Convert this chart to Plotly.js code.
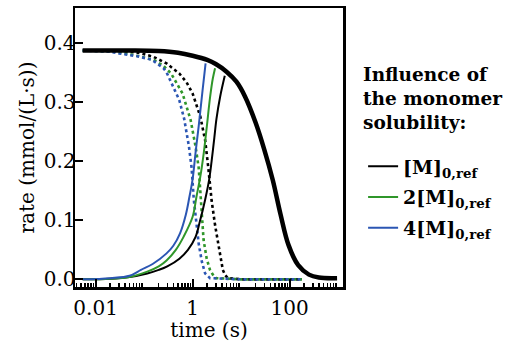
<!DOCTYPE html>
<html>
<head>
<meta charset="utf-8">
<script src="https://cdn.plot.ly/plotly-3.0.1.min.js"></script>
<style>html,body{margin:0;padding:0;background:#fff;}#chart{width:505px;height:342px;}</style>
</head>
<body>
<div id="chart"></div>
<script>
// Thick black: overall rate
var totalT = [0.0054, 0.05, 0.2, 0.5, 1, 2, 3, 5, 8, 12, 20, 30, 45, 65, 95, 150, 250, 400, 950];
var totalR = [0.388, 0.388, 0.387, 0.384, 0.379, 0.372, 0.365, 0.352, 0.335, 0.31, 0.265, 0.22, 0.168, 0.11, 0.058, 0.024, 0.008, 0.003, 0.002];

// Thin solid (rising) curves
var refRiseT = [0.0054, 0.02, 0.05, 0.116, 0.2, 0.3, 0.534, 0.8, 1.15, 1.4, 1.81, 2.2, 2.46, 2.8, 3.1, 3.7, 4.6];
var refRiseR = [0.0, 0.001, 0.004, 0.01, 0.016, 0.022, 0.035, 0.05, 0.072, 0.097, 0.135, 0.17, 0.2, 0.24, 0.272, 0.31, 0.345];
var x2RiseT = [0.0054, 0.02, 0.05, 0.116, 0.2, 0.29, 0.45, 0.65, 1.0, 1.2, 1.44, 1.7, 1.96, 2.3, 2.6, 2.9];
var x2RiseR = [0.0, 0.001, 0.004, 0.013, 0.022, 0.032, 0.05, 0.072, 0.106, 0.14, 0.174, 0.215, 0.259, 0.31, 0.34, 0.358];
var x4RiseT = [0.0054, 0.02, 0.05, 0.086, 0.15, 0.29, 0.4, 0.55, 0.726, 0.86, 1.0, 1.15, 1.33, 1.6, 1.85];
var x4RiseR = [0.0, 0.002, 0.006, 0.016, 0.026, 0.044, 0.057, 0.078, 0.11, 0.14, 0.17, 0.215, 0.259, 0.32, 0.366];

// Dotted (decaying) curves
var refDecT = [0.0054, 0.03, 0.08, 0.158, 0.29, 0.53, 0.75, 1.0, 1.44, 1.81, 2.1, 2.46, 2.9, 3.33, 3.8, 4.19, 4.7, 5.3, 10, 50, 180];
var refDecR = [0.388, 0.387, 0.384, 0.377, 0.366, 0.349, 0.334, 0.315, 0.276, 0.236, 0.19, 0.134, 0.092, 0.061, 0.034, 0.016, 0.007, 0.002, 0.0, 0.0, 0.0];
var x2DecT = [0.0054, 0.025, 0.063, 0.158, 0.25, 0.36, 0.62, 0.91, 1.15, 1.33, 1.44, 1.68, 1.95, 2.28, 2.7, 3.1, 10, 50, 180];
var x2DecR = [0.388, 0.386, 0.38, 0.372, 0.362, 0.349, 0.315, 0.27, 0.225, 0.19, 0.15, 0.067, 0.035, 0.016, 0.006, 0.002, 0.0, 0.0, 0.0];
var x4DecT = [0.0054, 0.02, 0.03, 0.075, 0.146, 0.25, 0.29, 0.46, 0.53, 0.67, 0.84, 0.95, 1.06, 1.2, 1.33, 1.55, 1.81, 2.28, 10, 50, 180];
var x4DecR = [0.388, 0.386, 0.383, 0.378, 0.372, 0.358, 0.351, 0.317, 0.304, 0.272, 0.225, 0.19, 0.134, 0.095, 0.061, 0.03, 0.01, 0.002, 0.0, 0.0, 0.0];

var legendNames = ['[M]<sub>0,ref</sub>', '2[M]<sub>0,ref</sub>', '4[M]<sub>0,ref</sub>'];
var legendTitleLines = ['Influence of', 'the monomer', 'solubility:'];
var xTickVals = [0.01, 1, 100];
var xTickText = ['0.01', '1', '100'];
var yTickVals = [0, 0.1, 0.2, 0.3, 0.4];
var yTickText = ['0.0', '0.1', '0.2', '0.3', '0.4'];

var colBlack = '#000000', colGreen = '#2f962a', colBlue = '#2b56b3';

var traces = [
  {x: refDecT, y: refDecR, mode: 'lines', line: {color: colBlack, width: 2.6, dash: 'dot'}, showlegend: false},
  {x: x2DecT, y: x2DecR, mode: 'lines', line: {color: colGreen, width: 2.6, dash: 'dot'}, showlegend: false},
  {x: x4DecT, y: x4DecR, mode: 'lines', line: {color: colBlue, width: 2.6, dash: 'dot'}, showlegend: false},
  {x: refRiseT, y: refRiseR, mode: 'lines', line: {color: colBlack, width: 2, shape: 'spline', smoothing: 1}, name: legendNames[0], legendgroup: 'a'},
  {x: x2RiseT, y: x2RiseR, mode: 'lines', line: {color: colGreen, width: 2, shape: 'spline', smoothing: 1}, name: legendNames[1], legendgroup: 'b'},
  {x: x4RiseT, y: x4RiseR, mode: 'lines', line: {color: colBlue, width: 2, shape: 'spline', smoothing: 1}, name: legendNames[2], legendgroup: 'c'},
  {x: totalT, y: totalR, mode: 'lines', line: {color: colBlack, width: 4.5, shape: 'spline', smoothing: 1}, showlegend: false}
];

var minorVals = [];
var decadeVals = [];
for (var e = -3; e <= 3; e++) {
  decadeVals.push(Math.pow(10, e));
  for (var m = 2; m <= 9; m++) minorVals.push(m * Math.pow(10, e));
}

var fontFam = 'DejaVu Serif, serif';
var xRange = [-2.425, 3.10];
var titleY = [0.760, 0.677, 0.591];
var annotations = legendTitleLines.map(function (s, i) {
  return {text: '<b>' + s + '</b>', xref: 'paper', yref: 'paper', x: 1.066, y: titleY[i],
          xanchor: 'left', yanchor: 'middle', showarrow: false,
          font: {family: fontFam, size: 18.5, color: '#000'}};
});

var layout = {
  width: 505, height: 342,
  margin: {l: 75, r: 152, t: 8, b: 55},
  paper_bgcolor: '#fff', plot_bgcolor: '#fff',
  font: {family: fontFam, size: 20, color: '#000'},
  xaxis: {
    type: 'log', range: xRange,
    tickvals: xTickVals, ticktext: xTickText,
    ticks: 'inside', ticklen: 8, tickwidth: 2, tickcolor: '#000',
    ticklabelstandoff: 1,
    minor: {tickvals: minorVals, ticks: 'inside', ticklen: 4, tickwidth: 1.5, tickcolor: '#000', showgrid: false},
    showline: true, linewidth: 2.5, linecolor: '#000', mirror: true,
    showgrid: false, zeroline: false,
    tickfont: {family: fontFam, size: 20},
    title: {text: 'time (s)', font: {family: fontFam, size: 20}, standoff: 3}
  },
  xaxis2: {
    type: 'log', range: xRange, overlaying: 'x', anchor: 'y', side: 'bottom',
    tickvals: decadeVals, showticklabels: false,
    ticks: 'inside', ticklen: 8, tickwidth: 2, tickcolor: '#000',
    showline: false, showgrid: false, zeroline: false
  },
  yaxis: {
    range: [-0.013, 0.46],
    tickvals: yTickVals, ticktext: yTickText,
    ticks: 'inside', ticklen: 8, tickwidth: 2, tickcolor: '#000',
    ticklabelstandoff: -7,
    showline: true, linewidth: 2.5, linecolor: '#000', mirror: true,
    showgrid: false, zeroline: false,
    tickfont: {family: fontFam, size: 20},
    title: {text: 'rate (mmol/(L·s))', font: {family: fontFam, size: 20}, standoff: 4}
  },
  legend: {
    x: 1.075, xanchor: 'left', y: 0.50, yanchor: 'top',
    font: {family: fontFam, size: 19, weight: 'bold'},
    traceorder: 'grouped', tracegroupgap: 3, itemwidth: 30, bgcolor: 'rgba(0,0,0,0)'
  },
  annotations: annotations,
  showlegend: true
};

Plotly.newPlot('chart', traces, layout, {displayModeBar: false, staticPlot: true});
</script>
</body>
</html>
